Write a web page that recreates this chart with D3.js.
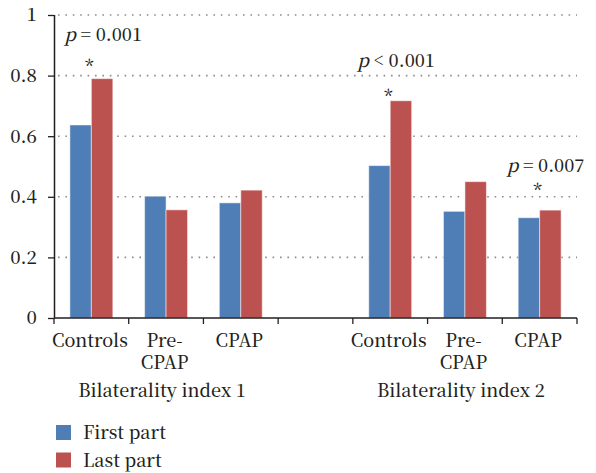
<!DOCTYPE html>
<html>
<head>
<meta charset="utf-8">
<script src="https://cdn.jsdelivr.net/npm/d3@7"></script>
</head>
<body style="margin:0; background:#fff">
<svg width="596" height="473"></svg>
<script>
// chart values
let slots = ["c1", "p1", "k1", "gap", "c2", "p2", "k2"];
let categories = ["Controls", "Pre-CPAP", "CPAP", "", "Controls", "Pre-CPAP", "CPAP"];
let groups = ["Bilaterality index 1", "Bilaterality index 2"];
let series = ["First part", "Last part"];
let firstPart = [0.637, 0.402, 0.380, null, 0.503, 0.352, 0.331];
let lastPart = [0.790, 0.357, 0.422, null, 0.717, 0.450, 0.356];
let yTicks = [0, 0.2, 0.4, 0.6, 0.8, 1];
let pLabels = ["p = 0.001", "p < 0.001", "p = 0.007"];
let pSlots = ["c1", "c2", "k2"];
let pY = [0.914, 0.828, 0.482];
let starY = [0.842, 0.743, 0.432];

let FONT = "'Noto Serif CJK SC', 'Liberation Serif', serif";
let INK = "#231f20";

let svg = d3.select("svg"),
    margin = {top: 15, right: 19, bottom: 155, left: 54},
    width = +svg.attr("width") - margin.left - margin.right,
    height = +svg.attr("height") - margin.top - margin.bottom,
    g = svg.append("g").attr("transform", "translate(" + margin.left + "," + margin.top + ")");

let x0 = d3.scaleBand().domain(slots).range([0, width]).padding(0);
let x1 = d3.scaleBand().domain(series).range([0, x0.bandwidth()]).paddingInner(0).paddingOuter(0.74);
let y = d3.scaleLinear().domain([0, 1]).range([height, 0]);
let z = d3.scaleOrdinal().domain(series).range(["#4f7eb7", "#bc5250"]);

function serif(sel, size) {
  return sel.style("font-family", FONT).style("font-size", size + "px")
    .style("font-weight", 500).style("fill", INK);
}

let data = slots.map(function(s, i) {
  return {slot: s, values: [{key: series[0], v: firstPart[i]}, {key: series[1], v: lastPart[i]}]};
}).filter(function(d) { return d.values[0].v != null; });

// dotted grid
g.append("g")
  .selectAll("line")
  .data(yTicks.filter(function(d) { return d > 0; }))
  .enter().append("line")
    .attr("x1", 0)
    .attr("x2", width)
    .attr("y1", function(d) { return y(d); })
    .attr("y2", function(d) { return y(d); })
    .attr("stroke", "#8c8c8c")
    .attr("stroke-width", 1.6)
    .attr("stroke-dasharray", "1.6,5.8")
    .attr("stroke-dashoffset", -4);

// bars
g.append("g")
  .selectAll("g")
  .data(data)
  .enter().append("g")
    .attr("transform", function(d) { return "translate(" + x0(d.slot) + ",0)"; })
  .selectAll("rect")
  .data(function(d) { return d.values; })
  .enter().append("rect")
    .attr("x", function(d) { return x1(d.key); })
    .attr("y", function(d) { return y(d.v); })
    .attr("width", x1.bandwidth())
    .attr("height", function(d) { return height - y(d.v); })
    .attr("fill", function(d) { return z(d.key); })
    .attr("stroke", "#fff")
    .attr("stroke-opacity", 0.5)
    .attr("stroke-width", 1);

// y axis
let yAxis = g.append("g")
  .call(d3.axisLeft(y).tickValues(yTicks).tickSize(6).tickPadding(11)
    .tickFormat(function(d) { return (d === 0 || d === 1) ? String(d) : d.toFixed(1); }));
yAxis.select(".domain").attr("stroke", INK).attr("stroke-width", 1.5).attr("d", "M0.5," + y(1) + "V" + height);
yAxis.selectAll(".tick line").attr("stroke", INK).attr("stroke-width", 1.3);
serif(yAxis.selectAll("text"), 18.5);

// x axis with ticks at band edges
let xAxis = g.append("g").attr("transform", "translate(0," + height + ")");
xAxis.append("line").attr("x1", 0).attr("x2", width).attr("stroke", INK).attr("stroke-width", 1.5);
xAxis.selectAll("line.tk")
  .data(slots.concat(["end"]))
  .enter().append("line")
    .attr("class", "tk")
    .attr("x1", function(d, i) { return i < slots.length ? x0(d) : width; })
    .attr("x2", function(d, i) { return i < slots.length ? x0(d) : width; })
    .attr("y1", 0).attr("y2", 6)
    .attr("stroke", INK).attr("stroke-width", 1.3);

// category labels, "Pre-CPAP" wrapped on two lines
let catLines = [];
slots.forEach(function(s, i) {
  let label = categories[i];
  if (label === "") return;
  let parts = label === "Pre-CPAP" ? ["Pre-", "CPAP"] : [label];
  parts.forEach(function(p, j) { catLines.push({slot: s, text: p, line: j}); });
});
serif(xAxis.selectAll("text.cat")
  .data(catLines)
  .enter().append("text")
    .attr("class", "cat")
    .attr("text-anchor", "middle")
    .attr("x", function(d) { return x0(d.slot) + x0.bandwidth() / 2 - 1.5; })
    .attr("y", function(d) { return 29 + d.line * 22; })
    .text(function(d) { return d.text; }), 18);

// group labels
serif(xAxis.selectAll("text.grp")
  .data(groups)
  .enter().append("text")
    .attr("class", "grp")
    .attr("text-anchor", "middle")
    .attr("x", function(d, i) { return x0(i === 0 ? "p1" : "p2") + x0.bandwidth() / 2 - 4; })
    .attr("y", 79)
    .text(function(d) { return d; }), 18);

// p-value annotations
let ann = g.append("g");
serif(ann.selectAll("text.p")
  .data(pLabels)
  .enter().append("text")
    .attr("class", "p")
    .attr("x", function(d, i) { return x0(pSlots[i]) + x0.bandwidth() / 2 + (i === 0 ? -27 : -33); })
    .attr("y", function(d, i) { return y(pY[i]); }), 18)
    .each(function(d) {
      let t = d3.select(this);
      t.append("tspan").style("font-style", "italic").text("p");
      t.append("tspan").text(d.slice(1));
    });
serif(ann.selectAll("text.star")
  .data(starY)
  .enter().append("text")
    .attr("class", "star")
    .attr("text-anchor", "middle")
    .attr("x", function(d, i) { return x0(pSlots[i]) + x0.bandwidth() / 2 - 2; })
    .attr("y", function(d) { return y(d) + 10; })
    .text("*"), 18);

// legend
let legend = svg.append("g")
  .selectAll("g")
  .data(series)
  .enter().append("g")
    .attr("transform", function(d, i) { return "translate(56," + (425 + i * 27.5) + ")"; });

legend.append("rect")
  .attr("width", 15)
  .attr("height", 15)
  .attr("fill", z);

serif(legend.append("text")
  .attr("x", 27)
  .attr("y", 14)
  .text(function(d) { return d; }), 18);
</script>
</body>
</html>
